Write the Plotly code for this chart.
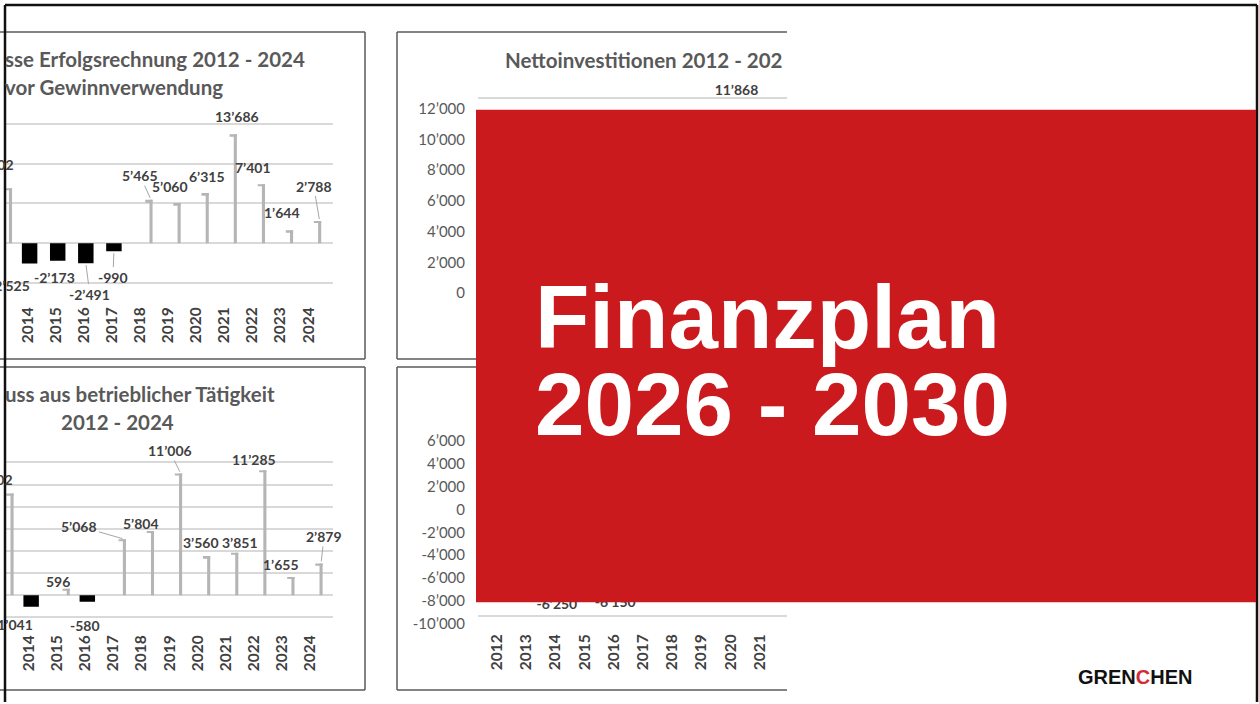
import plotly.graph_objects as go

W, H = 1259, 704

# ---------------- data ----------------
years_left = [2013, 2014, 2015, 2016, 2017, 2018, 2019, 2020, 2021, 2022, 2023, 2024]
erfolg = [6902, -2525, -2173, -2491, -990, 5465, 5060, 6315, 13686, 7401, 1644, 2788]
cashflow = [9202, -1041, 596, -580, 5068, 5804, 11006, 3560, 3851, 11285, 1655, 2879]

years_right = [2012, 2013, 2014, 2015, 2016, 2017, 2018, 2019, 2020, 2021]
netto_inv = [None, None, None, None, None, None, None, None, 11868, None]
finanzierung = [None, None, -6250, None, -6150, None, None, None, None, None]

inv_ticks = [0, 2000, 4000, 6000, 8000, 10000, 12000]
fin_ticks = [-10000, -8000, -6000, -4000, -2000, 0, 2000, 4000, 6000]

# label placement (pixel offsets of the data labels, styling only)
erfolg_lab_dx = [-15, -20, -3, 4, -1, -11, -9, 0, 2, -10, -10, -6]
erfolg_lab_dy = [-24, 22, 17, 31, 26, -24, -16, -16, -18, -17, -18, -35]
erfolg_leader = [False, False, False, True, True, True, False, False, False, False, False, True]
cash_lab_dx = [-17, -19, -10, -2, -45, -12, -11, -8, 3, -11, -12, 3]
cash_lab_dy = [-14, 18, -7, 24, -13, -8, -23, -13, -10, -11, -12, -27]
cash_leader = [False, False, True, False, True, False, True, False, False, False, False, True]


def fmt(v):
    return f"{v:,}".replace(",", "\u2019")


def px_x(p):
    return p / W


def px_y(p):
    return 1 - p / H


FONT = "Lato"
DARK = "#404040"
GREY = "#595959"
GRID = "#d9d9d9"
POS = "#b5b5b5"
LAB_FONT = dict(family=FONT, size=14, color=DARK, weight="bold")

fig = go.Figure()
ann = []


def add_bars(xs, vals, xa, ya, cap_units):
    colors = [POS if (v is not None and v > 0) else "#000000" for v in vals]
    widths = [0.11 if (v is not None and v > 0) else 0.55 for v in vals]
    offs = [0.34 if (v is not None and v > 0) else -0.2 for v in vals]
    fig.add_trace(go.Bar(x=xs, y=vals, marker=dict(color=colors, line=dict(width=0)),
                         width=widths, offset=offs, xaxis=xa, yaxis=ya,
                         showlegend=False, hoverinfo="skip"))
    # top edge of the 3-D columns
    cx = [x for x, v in zip(xs, vals) if v is not None and v > 0]
    cv = [v for v in vals if v is not None and v > 0]
    fig.add_trace(go.Bar(x=cx, y=[cap_units] * len(cx), base=[v - cap_units for v in cv],
                         marker=dict(color=POS, line=dict(width=0)), width=0.26,
                         offset=0.19, xaxis=xa, yaxis=ya, showlegend=False,
                         hoverinfo="skip"))


def add_label_annotations(xs, vals, xa, ya, dxs, dys, leaders):
    for x, v, dx, dy, ld in zip(xs, vals, dxs, dys, leaders):
        xp = x + 0.395 if v > 0 else x + 0.075
        a = dict(x=xp, y=v, xref=xa, yref=ya, text=fmt(v), font=LAB_FONT,
                 xanchor="center", yanchor="middle")
        if ld:
            a.update(showarrow=True, ax=dx, ay=dy, arrowhead=0, arrowwidth=1,
                     arrowcolor="#a6a6a6", standoff=2)
        else:
            a.update(showarrow=False, xshift=dx, yshift=-dy)
        ann.append(a)


def add_hidden_labels(xs, vals, xa, ya, pos_size, neg_size):
    px_, py_, pt_, nx_, ny_, nt_ = [], [], [], [], [], []
    for x, v in zip(xs, vals):
        if v is None:
            continue
        if v > 0:
            px_.append(x + 0.2); py_.append(v); pt_.append(fmt(v))
        else:
            nx_.append(x + 0.05); ny_.append(v); nt_.append(fmt(v))
    if px_:
        fig.add_trace(go.Scatter(x=px_, y=py_, text=pt_, mode="markers+text",
                                 textposition="top center", textfont=LAB_FONT,
                                 marker=dict(size=pos_size, opacity=0),
                                 xaxis=xa, yaxis=ya, cliponaxis=False,
                                 showlegend=False, hoverinfo="skip"))
    if nx_:
        fig.add_trace(go.Scatter(x=nx_, y=ny_, text=nt_, mode="markers+text",
                                 textposition="bottom center", textfont=LAB_FONT,
                                 marker=dict(size=neg_size, opacity=0),
                                 xaxis=xa, yaxis=ya, cliponaxis=False,
                                 showlegend=False, hoverinfo="skip"))


add_bars(years_left, erfolg, "x", "y", 250)
add_bars(years_right, netto_inv, "x2", "y2", 130)
add_bars(years_left, cashflow, "x3", "y3", 180)
add_bars(years_right, finanzierung, "x4", "y4", 175)

add_label_annotations(years_left, erfolg, "x", "y", erfolg_lab_dx, erfolg_lab_dy, erfolg_leader)
add_label_annotations(years_left, cashflow, "x3", "y3", cash_lab_dx, cash_lab_dy, cash_leader)
add_hidden_labels(years_right, netto_inv, "x2", "y2", 18, 18)
add_hidden_labels(years_right, finanzierung, "x4", "y4", 18, 26)

# helper traces for back-wall grid axes
fig.add_trace(go.Scatter(x=[None], y=[None], xaxis="x2", yaxis="y5", showlegend=False, hoverinfo="skip"))
fig.add_trace(go.Scatter(x=[None], y=[None], xaxis="x4", yaxis="y6", showlegend=False, hoverinfo="skip"))

xt_font = dict(family=FONT, size=15.5, color=DARK, weight="bold")
yt_font = dict(family=FONT, size=15, color=GREY)


def xaxis_cfg(domain_px, rng, years):
    return dict(domain=[px_x(domain_px[0]), px_x(domain_px[1])], range=rng,
                tickvals=years, ticktext=[str(y) for y in years], tickangle=-90,
                tickfont=xt_font, showgrid=False, zeroline=False, showline=False,
                ticks="", fixedrange=True)


common_y = dict(zeroline=False, showline=False, ticks="", fixedrange=True)

fig.update_layout(
    width=W, height=H, margin=dict(l=0, r=0, t=0, b=0),
    paper_bgcolor="white", plot_bgcolor="rgba(0,0,0,0)",
    xaxis=dict(xaxis_cfg((6, 333), [2013.235, 2024.87], years_left), anchor="y"),
    yaxis=dict(domain=[px_y(304), px_y(118)], range=[-7500, 15750], dtick=5000,
               showgrid=True, gridcolor=GRID, gridwidth=1.5, showticklabels=False,
               anchor="x", **common_y),
    xaxis3=dict(xaxis_cfg((6, 333), [2013.18, 2024.82], years_left), anchor="y3"),
    yaxis3=dict(domain=[px_y(633), px_y(452)], range=[-3240, 13060], dtick=2000,
                showgrid=True, gridcolor=GRID, gridwidth=1.5, showticklabels=False,
                anchor="x3", **common_y),
    xaxis2=dict(xaxis_cfg((478, 787), [2011.35, 2021.93], years_right), anchor="y2"),
    yaxis2=dict(domain=[px_y(300), px_y(80)], range=[-390, 13880],
                tickvals=inv_ticks, ticktext=[fmt(v) for v in inv_ticks],
                tickfont=yt_font, showgrid=False, ticklabelstandoff=12,
                anchor="x2", **common_y),
    yaxis5=dict(domain=[px_y(289), px_y(69)], range=[-390, 13880],
                tickvals=inv_ticks, showticklabels=False, showgrid=True,
                gridcolor=GRID, gridwidth=1.5, anchor="x2", **common_y),
    xaxis4=dict(xaxis_cfg((478, 787), [2011.35, 2021.93], years_right), anchor="y4"),
    yaxis4=dict(domain=[px_y(632), px_y(430)], range=[-10580, 7080],
                tickvals=fin_ticks, ticktext=[fmt(v) for v in fin_ticks],
                tickfont=yt_font, showgrid=False, ticklabelstandoff=12,
                anchor="x4", **common_y),
    yaxis6=dict(domain=[px_y(624), px_y(422)], range=[-10580, 7080],
                tickvals=fin_ticks, showticklabels=False, showgrid=True,
                gridcolor=GRID, gridwidth=1.5, anchor="x4", **common_y),
)

# ---------------- shapes ----------------
shapes = []
PANEL = dict(color="#5a5a5a", width=1.5)


def line(x0, y0, x1, y1, ln):
    shapes.append(dict(type="line", xref="paper", yref="paper",
                       x0=px_x(x0), y0=px_y(y0), x1=px_x(x1), y1=px_y(y1), line=ln))


# left panels (cut off at the left edge)
line(0, 32, 365, 32, PANEL); line(365, 32, 365, 360, PANEL); line(0, 360, 365, 360, PANEL)
line(0, 368, 365, 368, PANEL); line(365, 368, 365, 692, PANEL); line(0, 692, 365, 692, PANEL)
# right panels (cut off at 787)
line(397, 32, 787, 32, PANEL); line(397, 32, 397, 360, PANEL); line(397, 360, 787, 360, PANEL)
line(397, 368, 787, 368, PANEL); line(397, 368, 397, 692, PANEL); line(397, 692, 787, 692, PANEL)
# outer frame
FRAME = dict(color="#111111", width=2.5)
line(5, 5, 1257, 5, FRAME); line(5, 5, 5, 704, FRAME); line(1257, 5, 1257, 704, FRAME)
# red banner
shapes.append(dict(type="rect", xref="paper", yref="paper",
                   x0=px_x(476), x1=px_x(1256), y0=px_y(604), y1=px_y(110),
                   fillcolor="#cb1a1d", line=dict(width=0), layer="above"))
fig.update_layout(shapes=shapes)

# ---------------- text annotations ----------------
TITLE = dict(family=FONT, size=20.5, color=GREY, weight="bold")


def text(x, y, s, font, xanchor="left"):
    ann.append(dict(x=px_x(x), y=px_y(y), xref="paper", yref="paper", text=s,
                    showarrow=False, xanchor=xanchor, yanchor="middle", font=font))


text(3, 59, "sse Erfolgsrechnung 2012 - 2024", TITLE)
text(3, 87, "vor Gewinnverwendung", TITLE)
text(503, 60, "Nettoinvestitionen 2012 - 202", TITLE)
text(3, 395, "uss aus betrieblicher T\u00e4tigkeit", TITLE)
text(117, 423, "2012 - 2024", TITLE, xanchor="center")

BIG = dict(family="Liberation Sans", size=89, color="white", weight="bold")
text(533, 318, "Finanzplan", BIG)
text(533, 405, "2026 - 2030", BIG)

text(1135, 679, "GREN<span style='color:#d42a36'>C</span>HEN",
     dict(family="Liberation Sans", size=20, color="#111111", weight="bold"),
     xanchor="center")
fig.update_layout(annotations=ann)

fig.write_html("out.html", config={"displayModeBar": False},
               post_script="document.body.style.margin='0px';document.body.style.overflow='hidden';")
